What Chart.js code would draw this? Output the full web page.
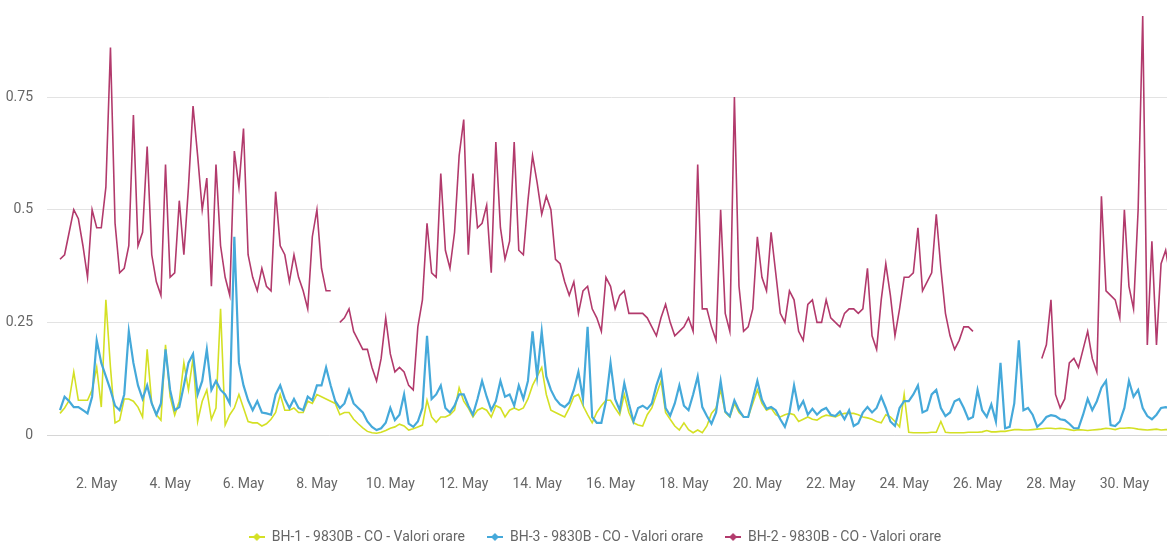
<!DOCTYPE html>
<html>
<head>
<meta charset="utf-8">
<script src="https://cdn.jsdelivr.net/npm/chart.js@4/dist/chart.umd.min.js"></script>
<style>
  html, body { margin: 0; padding: 0; background: #fff; overflow: hidden; }
  body { width: 1167px; height: 546px; position: relative; }
  #wrap { position: absolute; left: 0; top: -38px; }
</style>
</head>
<body>
<div id="wrap"><canvas id="coChart" width="1190" height="592"></canvas></div>
<script>
// hourly CO readings, sampled every 3 hours starting 1 May 00:00
const stepHours = 3;

const seriesNames = ['BH-1 - 9830B - CO - Valori orare', 'BH-3 - 9830B - CO - Valori orare', 'BH-2 - 9830B - CO - Valori orare'];
const seriesColors = ['#d4e024', '#45a9da', '#b23a6c'];

// BH-1 (one row per day)
const bh1 = [
  .048,.06,.077,.14,.077,.077,.077,.10,
  .15,.062,.30,.15,.027,.033,.08,.08,
  .075,.062,.04,.19,.07,.045,.033,.20,
  .085,.044,.075,.16,.10,.17,.03,.075,
  .10,.035,.06,.28,.022,.045,.06,.09,
  .06,.03,.027,.027,.02,.025,.035,.05,
  .09,.055,.055,.06,.05,.05,.075,.07,
  .09,.085,.08,.075,.07,.045,.05,.05,
  .035,.025,.016,.008,.005,.004,.006,.01,
  .015,.018,.024,.02,.011,.014,.018,.022,
  .077,.04,.028,.04,.04,.045,.055,.105,
  .075,.06,.04,.055,.06,.055,.04,.065,
  .06,.04,.055,.06,.055,.06,.08,.11,
  .13,.15,.09,.055,.05,.045,.04,.06,
  .085,.09,.065,.045,.027,.05,.065,.077,
  .077,.06,.045,.09,.05,.027,.022,.02,
  .045,.06,.09,.12,.05,.035,.02,.011,
  .027,.012,.005,.011,.005,.02,.048,.06,
  .10,.05,.04,.07,.05,.04,.04,.07,
  .10,.07,.055,.06,.045,.04,.045,.048,
  .045,.03,.035,.04,.035,.033,.04,.044,
  .042,.04,.045,.048,.048,.048,.045,.04,
  .038,.035,.03,.027,.045,.04,.03,.018,
  .09,.006,.005,.005,.005,.005,.006,.006,
  .03,.006,.005,.005,.005,.005,.006,.006,
  .006,.007,.01,.007,.007,.008,.008,.01,
  .012,.012,.011,.011,.012,.013,.014,.015,
  .015,.014,.015,.014,.012,.01,.012,.011,
  .01,.011,.012,.013,.015,.014,.012,.015,
  .015,.016,.015,.013,.012,.011,.012,.013,
  .011,.012,.012
];

// BH-3
const bh3 = [
  .055,.085,.075,.062,.062,.055,.048,.085,
  .21,.16,.13,.10,.065,.055,.09,.23,
  .16,.11,.08,.11,.07,.045,.07,.19,
  .10,.055,.062,.11,.16,.18,.09,.12,
  .19,.10,.12,.10,.09,.07,.44,.16,
  .11,.077,.055,.075,.05,.048,.045,.09,
  .11,.08,.06,.08,.06,.055,.085,.077,
  .11,.11,.15,.11,.075,.06,.07,.10,
  .07,.06,.05,.03,.018,.011,.015,.027,
  .06,.033,.045,.09,.025,.018,.03,.06,
  .22,.08,.09,.11,.06,.05,.065,.09,
  .09,.065,.045,.08,.12,.085,.055,.075,
  .12,.085,.09,.065,.11,.08,.12,.23,
  .13,.23,.13,.10,.08,.068,.062,.072,
  .10,.14,.08,.24,.04,.027,.027,.075,
  .16,.08,.055,.115,.07,.03,.06,.065,
  .058,.07,.11,.14,.06,.043,.07,.11,
  .065,.055,.09,.13,.062,.042,.025,.05,
  .12,.052,.042,.077,.055,.04,.04,.08,
  .12,.078,.058,.062,.055,.035,.018,.05,
  .11,.058,.075,.045,.058,.045,.055,.06,
  .045,.042,.052,.035,.055,.02,.026,.05,
  .062,.05,.06,.085,.06,.03,.02,.06,
  .075,.075,.09,.11,.05,.055,.09,.10,
  .06,.042,.05,.075,.08,.06,.035,.04,
  .10,.055,.04,.068,.03,.16,.015,.018,
  .07,.21,.055,.06,.045,.018,.027,.04,
  .044,.042,.035,.033,.025,.015,.015,.045,
  .08,.055,.075,.105,.12,.022,.02,.03,
  .06,.12,.085,.10,.06,.042,.035,.045,
  .06,.062,.06
];

// BH-2 (null = missing hours)
const bh2 = [
  .39,.40,.45,.50,.48,.42,.35,.50,
  .46,.46,.55,.86,.47,.36,.37,.42,
  .71,.42,.45,.64,.40,.34,.31,.60,
  .35,.36,.52,.40,.55,.73,.62,.50,
  .57,.33,.60,.42,.35,.31,.63,.55,
  .68,.40,.35,.32,.37,.33,.32,.54,
  .42,.40,.34,.40,.35,.32,.28,.44,
  .50,.37,.32,.32,null,.25,.26,.28,
  .23,.21,.19,.19,.15,.12,.17,.26,
  .18,.14,.15,.14,.11,.10,.24,.30,
  .47,.36,.35,.58,.41,.37,.45,.62,
  .70,.40,.58,.46,.47,.51,.36,.65,
  .46,.39,.43,.65,.41,.40,.52,.62,
  .56,.49,.53,.50,.39,.38,.34,.31,
  .34,.27,.32,.33,.28,.26,.23,.35,
  .33,.28,.31,.32,.27,.27,.27,.27,
  .26,.24,.22,.26,.29,.25,.22,.23,
  .24,.26,.23,.60,.28,.28,.24,.21,
  .50,.27,.23,.75,.33,.23,.24,.28,
  .44,.35,.32,.45,.36,.27,.25,.32,
  .30,.23,.21,.29,.30,.25,.25,.30,
  .26,.25,.24,.27,.28,.28,.27,.28,
  .37,.22,.19,.30,.38,.31,.22,.28,
  .35,.35,.36,.46,.32,.34,.36,.49,
  .37,.27,.22,.19,.21,.24,.24,.23,
  null,null,null,null,null,null,null,null,
  null,null,null,null,null,null,.17,.20,
  .30,.09,.06,.08,.16,.17,.15,.19,
  .23,.17,.14,.53,.32,.31,.30,.26,
  .50,.33,.28,.50,.93,.20,.43,.20,
  .38,.41,.35
];

// x axis: labelled days and y axis ticks
const tickDays = [2, 4, 6, 8, 10, 12, 14, 16, 18, 20, 22, 24, 26, 28, 30];
const tickLabels = ['2. May', '4. May', '6. May', '8. May', '10. May', '12. May', '14. May', '16. May',
  '18. May', '20. May', '22. May', '24. May', '26. May', '28. May', '30. May'];
const yTicks = [0, 0.25, 0.5, 0.75];
const yLabels = ['0', '0.25', '0.5', '0.75'];

const toPoints = arr => arr.map((v, i) => ({ x: i * stepHours, y: v }));

// little line + diamond marker like the original legend
function legendMarker(color) {
  const c = document.createElement('canvas');
  c.width = 16; c.height = 10;
  const g = c.getContext('2d');
  g.strokeStyle = color; g.lineWidth = 2;
  g.beginPath(); g.moveTo(0, 5); g.lineTo(16, 5); g.stroke();
  g.fillStyle = color;
  g.beginPath(); g.moveTo(8, 1); g.lineTo(12, 5); g.lineTo(8, 9); g.lineTo(4, 5); g.closePath(); g.fill();
  return c;
}
const markers = seriesColors.map(legendMarker);

const font = "'Roboto', sans-serif";

new Chart(document.getElementById('coChart'), {
  type: 'line',
  data: {
    datasets: [
      { label: seriesNames[0], data: toPoints(bh1), borderColor: seriesColors[0], backgroundColor: seriesColors[0], borderWidth: 1.6, order: 3 },
      { label: seriesNames[1], data: toPoints(bh3), borderColor: seriesColors[1], backgroundColor: seriesColors[1], borderWidth: 2.2, order: 2 },
      { label: seriesNames[2], data: toPoints(bh2), borderColor: seriesColors[2], backgroundColor: seriesColors[2], borderWidth: 1.6, order: 1 }
    ]
  },
  options: {
    responsive: false,
    animation: false,
    tension: 0,
    spanGaps: false,
    layout: { padding: 0 },
    elements: { point: { radius: 0 } },
    scales: {
      x: {
        type: 'linear',
        min: -8.5,
        max: 730,
        afterBuildTicks: scale => { scale.ticks = tickDays.map(d => ({ value: (d - 1) * 24 })); },
        afterFit: scale => { scale.height = 73; },
        grid: { display: false, drawTicks: false },
        border: { display: true, color: '#d6d6d6' },
        ticks: {
          autoSkip: false, maxRotation: 0, padding: 41,
          color: '#666', font: { family: font, size: 14 },
          callback: (v, i) => tickLabels[i]
        }
      },
      y: {
        min: 0,
        max: 1,
        afterBuildTicks: scale => { scale.ticks = yTicks.map(v => ({ value: v })); },
        afterFit: scale => { scale.width = 47; },
        grid: { color: '#e3e3e3', drawTicks: false },
        border: { display: false },
        ticks: {
          padding: 14, color: '#666', font: { family: font, size: 14 },
          callback: (v, i) => yLabels[i]
        }
      }
    },
    plugins: {
      tooltip: { enabled: false },
      legend: {
        position: 'bottom',
        labels: {
          usePointStyle: true,
          pointStyleWidth: 16,
          padding: 22,
          color: '#666',
          font: { family: font, size: 14 },
          sort: (a, b) => a.datasetIndex - b.datasetIndex,
          generateLabels: chart => {
            const items = Chart.defaults.plugins.legend.labels.generateLabels(chart);
            items.forEach(it => { it.pointStyle = markers[it.datasetIndex]; });
            return items;
          }
        }
      }
    }
  }
});
</script>
</body>
</html>
